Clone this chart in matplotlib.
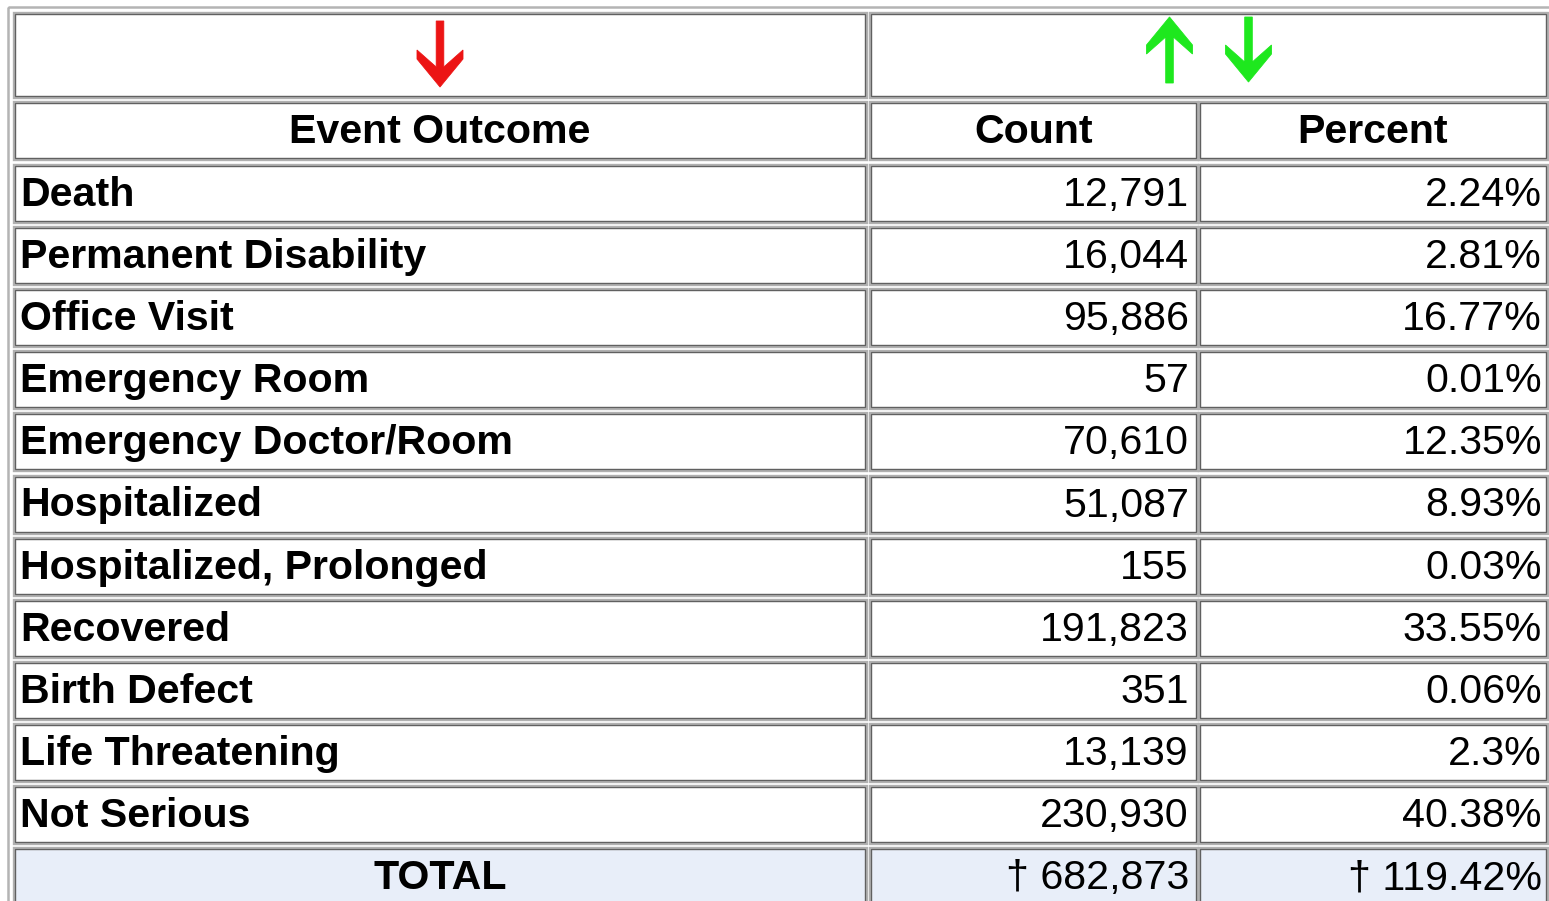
import matplotlib.pyplot as plt
from matplotlib.patches import Rectangle, Polygon

outcomes = ['Death', 'Permanent Disability', 'Office Visit', 'Emergency Room',
            'Emergency Doctor/Room', 'Hospitalized', 'Hospitalized, Prolonged',
            'Recovered', 'Birth Defect', 'Life Threatening', 'Not Serious']
counts = [12791, 16044, 95886, 57, 70610, 51087, 155, 191823, 351, 13139, 230930]
percents = [2.24, 2.81, 16.77, 0.01, 12.35, 8.93, 0.03, 33.55, 0.06, 2.3, 40.38]
total_count = 682873
total_pct = 119.42
headers = ['Event Outcome', 'Count', 'Percent']

FONT = 'Liberation Sans'
FS = 29.6
cols = [(14, 866), (870, 1197), (1199, 1547)]
row0 = 165
pitch = 62.1
row_h = 57

fig = plt.figure(figsize=(15.49, 9.01), dpi=100)
ax = fig.add_axes([0, 0, 1, 1])
ax.set_xlim(0, 1549)
ax.set_ylim(901, 0)
ax.axis('off')


def cell(x0, x1, y0, y1, face='white'):
    ax.add_patch(Rectangle((x0, y0), x1 - x0, y1 - y0, facecolor=face,
                           edgecolor='#b0b0b0', linewidth=2.4, zorder=2))
    ax.add_patch(Rectangle((x0 + 1, y0 + 1), x1 - x0 - 2, y1 - y0 - 2, facecolor='none',
                           edgecolor='#606060', linewidth=0.9, zorder=3))


def arrow(xc, y_tail, y_tip, color):
    # chevron style arrow like the browser sort icons
    s = 1 if y_tip > y_tail else -1
    hw, sw, hl, cv, inner = 23, 3.8, 28, 9, 17
    ycl = y_tip - s * hl
    ycu = ycl - s * cv
    yj = ycu + s * inner
    pts = [(xc - sw, y_tail), (xc + sw, y_tail), (xc + sw, yj), (xc + hw, ycu),
           (xc + hw, ycl), (xc, y_tip), (xc - hw, ycl), (xc - hw, ycu), (xc - sw, yj)]
    ax.add_patch(Polygon(pts, closed=True, facecolor=color, edgecolor=color,
                         linewidth=0.6, zorder=4))


# outer table frame
ax.add_patch(Rectangle((8, 7), 1600, 950, facecolor='none', edgecolor='#b4b4b4',
                       linewidth=1.8, zorder=1))

# header row 1 (sort arrows)
cell(cols[0][0], cols[0][1], 13, 97)
cell(cols[1][0], cols[2][1], 13, 97)
arrow((cols[0][0] + cols[0][1]) / 2, 21, 87, '#ec1414')
xm = (cols[1][0] + cols[2][1]) / 2
arrow(xm - 39, 83, 17, '#1ee81e')
arrow(xm + 40, 17, 82, '#1ee81e')

# header row 2
for (x0, x1), h in zip(cols, headers):
    cell(x0, x1, 102, 159)
    ax.text((x0 + x1) / 2, 143, h, family=FONT, fontsize=FS, fontweight='bold',
            ha='center', va='baseline', zorder=5)

# data rows
for i, (name, c, p) in enumerate(zip(outcomes, counts, percents)):
    y0 = row0 + i * pitch
    for x0, x1 in cols:
        cell(x0, x1, y0, y0 + row_h)
    ax.text(cols[0][0] + 6, y0 + 41, name, family=FONT, fontsize=FS, fontweight='bold',
            ha='left', va='baseline', zorder=5)
    ax.text(cols[1][1] - 8, y0 + 41, f'{c:,}', family=FONT, fontsize=FS,
            ha='right', va='baseline', zorder=5)
    ax.text(cols[2][1] - 5, y0 + 41, f'{p:g}%', family=FONT, fontsize=FS,
            ha='right', va='baseline', zorder=5)

# total row
y0 = row0 + len(outcomes) * pitch
for x0, x1 in cols:
    cell(x0, x1, y0, y0 + row_h, face='#e8eef9')
ax.text((cols[0][0] + cols[0][1]) / 2, y0 + 41, 'TOTAL', family=FONT, fontsize=FS,
        fontweight='bold', ha='center', va='baseline', zorder=5)
ax.text(cols[1][1] - 8, y0 + 41, f'\u2020 {total_count:,}', family=FONT, fontsize=FS,
        ha='right', va='baseline', zorder=5)
ax.text(cols[2][1] - 5, y0 + 41, f'\u2020 {total_pct:g}%', family=FONT, fontsize=FS,
        ha='right', va='baseline', zorder=5)

fig.savefig('out.png', dpi=100)
